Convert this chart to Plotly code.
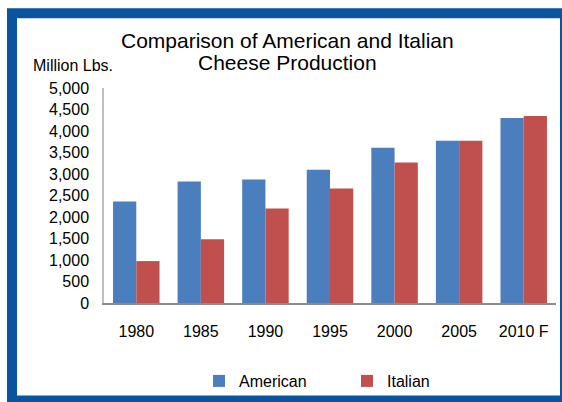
import plotly.graph_objects as go

categories = ["1980", "1985", "1990", "1995", "2000", "2005", "2010 F"]
american = [2360, 2825, 2870, 3100, 3610, 3775, 4305]
italian = [975, 1480, 2200, 2660, 3265, 3775, 4350]
ytick_vals = list(range(0, 5001, 500))
title_lines = ["Comparison of American and Italian", "Cheese Production"]

W, H = 562, 402
ML, MR, MT, MB = 104, 6, 88, 98
PW, PH = W - ML - MR, H - MT - MB

def px(x):
    return (x - ML) / PW

def py(y):
    return (H - MB - y) / PH

FONT = "Liberation Sans, Arial, sans-serif"
BLUE = "#4A7EBD"
RED = "#C0504D"
BORDER = "#0A539E"

fig = go.Figure()
fig.add_trace(go.Bar(name="American", x=categories, y=american, marker=dict(color=BLUE, line=dict(width=0))))
fig.add_trace(go.Bar(name="Italian", x=categories, y=italian, marker=dict(color=RED, line=dict(width=0))))

fig.update_layout(
    width=W, height=H,
    margin=dict(l=ML, r=MR, t=MT, b=MB),
    paper_bgcolor="white", plot_bgcolor="white",
    barmode="group", bargap=0.28, bargroupgap=0,
    font=dict(family=FONT, size=16, color="#000000"),
    xaxis=dict(showgrid=False, showline=True, linecolor="#8C8C8C", linewidth=1.5,
               ticks="", ticklabelstandoff=13, tickfont=dict(size=16)),
    yaxis=dict(range=[0, 5000], tickvals=ytick_vals, tickformat=",", showgrid=False,
               showline=True, linecolor="#BFBFBF", linewidth=1.5, ticks="",
               ticklabelstandoff=10, zeroline=False, tickfont=dict(size=16)),
    legend=dict(orientation="h", x=px(199), xanchor="left", y=py(381), yanchor="middle",
                entrywidth=103, entrywidthmode="pixels", font=dict(size=16),
                bgcolor="rgba(0,0,0,0)"),
    showlegend=True,
)

for line_text, yc in zip(title_lines, [40, 62]):
    fig.add_annotation(text=line_text, x=px(287), y=py(yc), xref="paper", yref="paper",
                       xanchor="center", yanchor="middle", showarrow=False,
                       font=dict(family=FONT, size=21, color="#000000"))

fig.add_annotation(text="Million Lbs.", x=px(73), y=py(65), xref="paper", yref="paper",
                   xanchor="center", yanchor="middle", showarrow=False,
                   font=dict(family=FONT, size=16, color="#000000"))

fig.add_shape(type="rect", xref="paper", yref="paper",
              x0=px(12), x1=px(565), y0=py(13), y1=py(402),
              line=dict(color=BORDER, width=10), fillcolor="rgba(0,0,0,0)", layer="above")

fig.write_html("out.html", config={"displayModeBar": False},
               post_script="document.body.style.margin='0';document.body.style.overflow='hidden';")
